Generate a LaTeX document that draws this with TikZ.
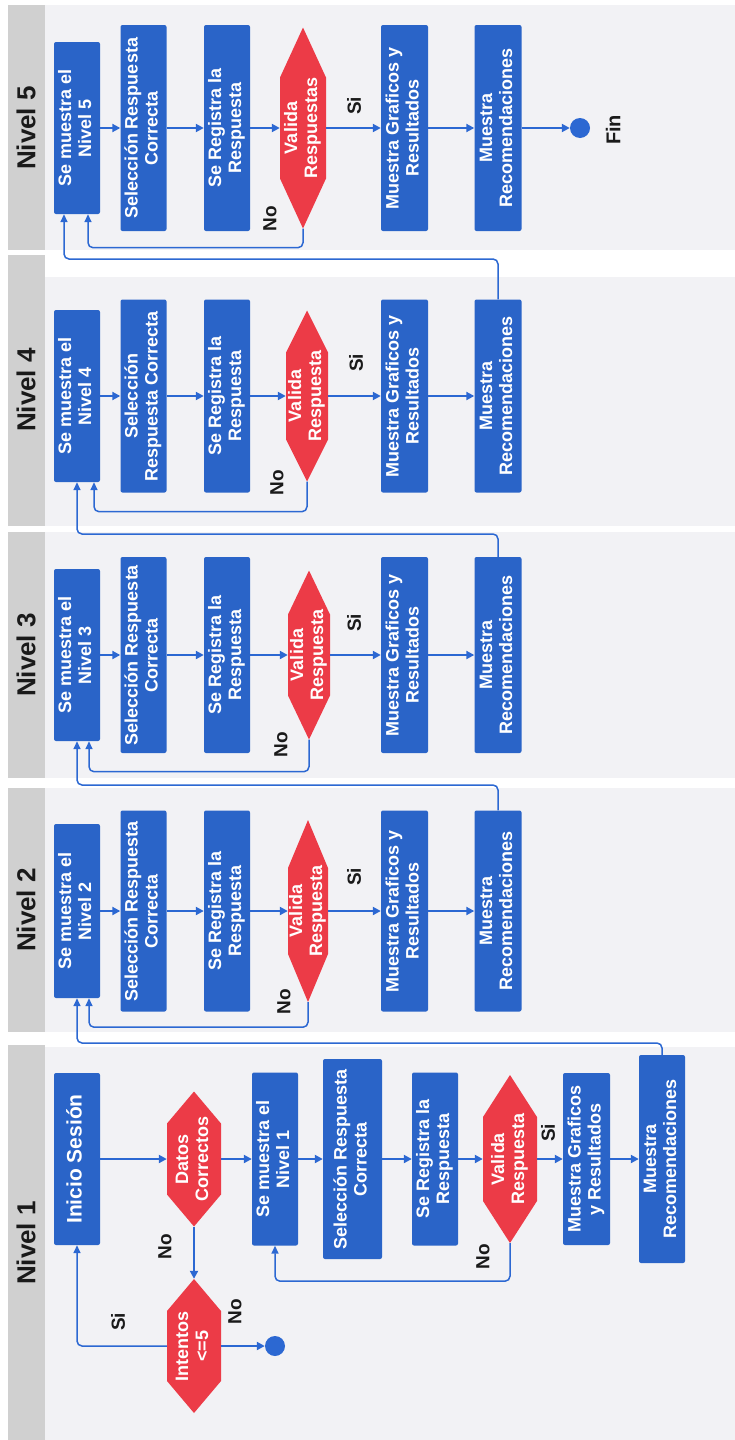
\documentclass[tikz,border=0pt]{standalone}
\usepackage{fontspec}
\usepackage{graphicx}
\setmainfont{Liberation Sans}
\usetikzlibrary{arrows.meta}

\definecolor{boxblue}{HTML}{2A64C8}
\definecolor{hexred}{HTML}{EC3B47}
\definecolor{lanebg}{HTML}{F2F2F5}
\definecolor{headgray}{HTML}{D0D0D0}
\definecolor{lineblue}{HTML}{2C68D2}
\definecolor{inkdark}{HTML}{1A1A1A}

% vertical (bottom-to-top) multi-line text
\newcommand{\rt}[1]{\rotatebox{90}{\begin{tabular}{@{}c@{}}#1\end{tabular}}}

\tikzset{
  procbox/.style={fill=boxblue, rounded corners=2pt, inner sep=0pt, text=white,
    font=\bfseries\fontsize{18}{20}\selectfont},
  hexbox/.style={inner sep=0pt, text=white, font=\bfseries\fontsize{18}{20}\selectfont},
  flow/.style={draw=lineblue, line width=2pt, -{Triangle[length=8pt,width=8pt]}},
  backloop/.style={draw=lineblue, line width=1.5pt, rounded corners=5pt,
    -{Triangle[length=8pt,width=7pt]}},
  tag/.style={font=\bfseries\fontsize{19}{21}\selectfont, text=inkdark, rotate=90, inner sep=0pt},
  lanetitle/.style={font=\bfseries\fontsize{26}{28}\selectfont, text=inkdark, rotate=90, inner sep=0pt},
  endpoint/.style={circle, fill=lineblue, minimum size=20pt, inner sep=0pt},
}

% process box: name, cx, cy, width, height, text
\newcommand{\pbox}[6]{%
  \node[procbox, minimum width=#4pt, minimum height=#5pt] (#1) at (#2,#3) {\rt{#6}};}

% decision hexagon: name, cx, cy, half width, half height, tip length, text
\newcommand{\hexa}[7]{%
  \fill[hexred] (#2,#3-#5) -- (#2+#4,#3-#5+#6) -- (#2+#4,#3+#5-#6) -- (#2,#3+#5)
    -- (#2-#4,#3+#5-#6) -- (#2-#4,#3-#5+#6) -- cycle;
  \node[hexbox, minimum width={2*#4pt}, minimum height={2*#5pt}] (#1) at (#2,#3) {\rt{#7}};}

\begin{document}
\begin{tikzpicture}[x=1pt, y=-1pt]
\useasboundingbox (0,0) rectangle (735,1440);
\fill[white] (0,0) rectangle (735,1440);

% ---------- lanes ----------
\fill[headgray] (8,5) rectangle (45,250);
\fill[lanebg] (45,5) rectangle (735,250);
\node[lanetitle] (t5) at (26,128) {Nivel 5};

\fill[headgray] (8,255) rectangle (45,526);
\fill[lanebg] (45,277) rectangle (735,526);
\node[lanetitle] (t4) at (26,390) {Nivel 4};

\fill[headgray] (8,532) rectangle (45,778);
\fill[lanebg] (45,532) rectangle (735,778);
\node[lanetitle] (t3) at (26,655) {Nivel 3};

\fill[headgray] (8,788) rectangle (45,1032);
\fill[lanebg] (45,788) rectangle (735,1032);
\node[lanetitle] (t2) at (26,910) {Nivel 2};

\fill[headgray] (8,1045) rectangle (45,1440);
\fill[lanebg] (45,1047) rectangle (735,1440);
\node[lanetitle] (t1) at (26,1243) {Nivel 1};

% ---------- Nivel 5 ----------
\pbox{b5}{77}{128}{46}{172}{Se muestra el\\Nivel 5}
\pbox{s5}{143.5}{128}{46}{206}{Selección Respuesta\\Correcta}
\pbox{g5}{227}{128}{46}{206}{Se Registra la\\Respuesta}
\hexa{v5}{303}{128}{23}{100.5}{50}{Valida\\Respuestas}
\pbox{m5}{404.5}{128}{47}{206}{Muestra Graficos y\\Resultados}
\pbox{r5}{498}{128}{47}{206}{Muestra\\Recomendaciones}
\node[endpoint] (fin) at (580,128) {};
\node[tag, font=\bfseries\fontsize{20}{22}\selectfont] (fintxt) at (613,130) {Fin};

% ---------- Nivel 4 ----------
\pbox{b4}{77}{396}{46}{172}{Se muestra el\\Nivel 4}
\pbox{s4}{143.5}{396}{46}{193}{Selección\\Respuesta Correcta}
\pbox{g4}{227}{396}{46}{193}{Se Registra la\\Respuesta}
\hexa{v4}{307}{396}{21}{85.5}{42}{Valida\\Respuesta}
\pbox{m4}{404.5}{396}{47}{193}{Muestra Graficos y\\Resultados}
\pbox{r4}{498}{396}{47}{193}{Muestra\\Recomendaciones}

% ---------- Nivel 3 ----------
\pbox{b3}{77}{655}{46}{172}{Se muestra el\\Nivel 3}
\pbox{s3}{143.5}{655}{46}{196}{Selección Respuesta\\Correcta}
\pbox{g3}{227}{655}{46}{196}{Se Registra la\\Respuesta}
\hexa{v3}{309}{655}{21}{84.5}{44}{Valida\\Respuesta}
\pbox{m3}{404.5}{655}{47}{196}{Muestra Graficos y\\Resultados}
\pbox{r3}{498}{655}{47}{196}{Muestra\\Recomendaciones}

% ---------- Nivel 2 ----------
\pbox{b2}{77}{911}{46}{174}{Se muestra el\\Nivel 2}
\pbox{s2}{143.5}{911}{46}{201}{Selección Respuesta\\Correcta}
\pbox{g2}{227}{911}{46}{201}{Se Registra la\\Respuesta}
\hexa{v2}{308}{911}{20}{91}{48}{Valida\\Respuesta}
\pbox{m2}{404.5}{911}{47}{201}{Muestra Graficos y\\Resultados}
\pbox{r2}{498}{911}{47}{201}{Muestra\\Recomendaciones}

% ---------- Nivel 1 ----------
\node[procbox, minimum width=46pt, minimum height=172pt,
  font=\bfseries\fontsize{21}{23}\selectfont] (in1) at (77,1159) {\rt{Inicio Sesión}};
\hexa{d1}{194}{1159}{27}{67.5}{32}{Datos\\Correctos}
\hexa{i1}{194}{1346}{27}{67}{32}{Intentos\\<=5}
\node[endpoint] (e1) at (275,1346) {};
\pbox{b1}{275}{1159}{46}{173}{Se muestra el\\Nivel 1}
\pbox{s1}{352.5}{1159}{59}{200}{Selección Respuesta\\Correcta}
\pbox{g1}{435}{1159}{46}{173}{Se Registra la\\Respuesta}
\hexa{v1}{510}{1159}{27}{84}{42}{Valida\\Respuesta}
\pbox{m1}{586.5}{1159}{47}{172}{Muestra Graficos\\y Resultados}
\pbox{r1}{662}{1159}{46}{208}{Muestra\\Recomendaciones}

% ---------- main flows ----------
\foreach \a/\b in {b5/s5, s5/g5, g5/v5, v5/m5, m5/r5, r5/fin,
                   b4/s4, s4/g4, g4/v4, v4/m4, m4/r4,
                   b3/s3, s3/g3, g3/v3, v3/m3, m3/r3,
                   b2/s2, s2/g2, g2/v2, v2/m2, m2/r2,
                   in1/d1, d1/b1, b1/s1, s1/g1, g1/v1, v1/m1, m1/r1}
  \draw[flow] (\a.east) -- (\b.west);
\draw[flow] (d1.south) -- (i1.north);
\draw[flow] (i1.east) -- (e1.west);
\draw[backloop] (i1.west) -| (in1.south);

% ---------- retry loops ----------
\draw[backloop] (v1.south) -- ++(0,38) -| (b1.south);
\draw[backloop] (v2.south) -- ++(0,25) -| ([xshift=12pt]b2.south);
\draw[backloop] (v3.south) -- ++(0,32) -| ([xshift=12pt]b3.south);
\draw[backloop] (v4.south) -- ++(0,30) -| ([xshift=17pt]b4.south);
\draw[backloop] (v5.south) -- ++(0,19) -| ([xshift=11pt]b5.south);

% ---------- level hand-over ----------
\coordinate (k12) at (662,1043);
\coordinate (k23) at (498,785);
\coordinate (k34) at (498,534);
\coordinate (k45) at (498,259);
\draw[backloop] (r1.north) -- (k12) -| (b2.south);
\draw[backloop] (r2.north) -- (k23) -| (b3.south);
\draw[backloop] (r3.north) -- (k34) -| (b4.south);
\draw[backloop] (r4.north) -- (k45) -| ([xshift=-13pt]b5.south);

% ---------- branch labels ----------
\node[tag] (si5) at (354,106) {Si};
\node[tag] (no5) at (270,219) {No};
\node[tag] (si4) at (356,363) {Si};
\node[tag] (no4) at (277,483) {No};
\node[tag] (si3) at (354,623) {Si};
\node[tag] (no3) at (281,745) {No};
\node[tag] (si2) at (354,877) {Si};
\node[tag] (no2) at (284,1002) {No};
\node[tag] (nod1) at (165,1247) {No};
\node[tag] (sii1) at (118,1322) {Si};
\node[tag] (noi1) at (235,1312) {No};
\node[tag] (nov1) at (483,1257) {No};
\node[tag] (siv1) at (548,1133) {Si};
\end{tikzpicture}
\end{document}
